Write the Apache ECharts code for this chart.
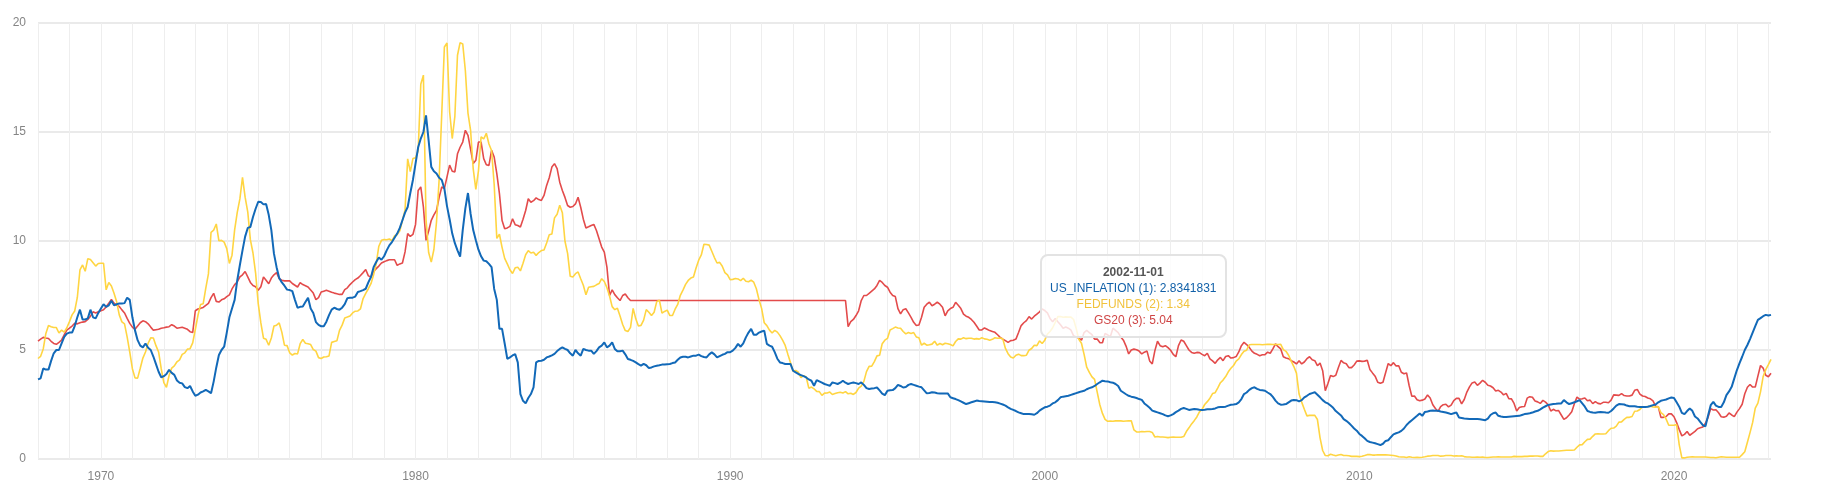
<!DOCTYPE html>
<html>
<head>
<meta charset="utf-8">
<title>US inflation, fed funds and 20y yield</title>
<script src="https://cdn.jsdelivr.net/npm/echarts@6/dist/echarts.min.js"></script>
<style>
  html, body { margin: 0; padding: 0; background: #fff; }
  #chart { width: 1829px; height: 502px; }
</style>
</head>
<body>
<div id="chart"></div>
<script>
// monthly, 1968-01 .. 2023-02
const startYear = 1968;
const monthCount = 662;
const yTicks = [0, 5, 10, 15, 20];
const seriesNames = ['US_INFLATION (1)', 'FEDFUNDS (2)', 'GS20 (3)'];
const seriesColors = ['#1160a8', '#f1c23c', '#cf4545'];

const usInflation = [
  3.65, 3.70, 4.15, 4.10, 4.10, 4.50, 4.85, 5.00, 5.00, 5.30, 5.60, 5.75, // 1968
  5.80, 5.80, 6.10, 6.50, 6.85, 6.40, 6.40, 6.45, 6.85, 6.50, 6.45, 6.70,
  6.90, 7.10, 6.98, 7.05, 7.26, 7.05, 7.10, 7.13, 7.13, 7.15, 7.40, 7.30, // 1970
  6.50, 5.90, 5.45, 5.20, 5.12, 5.30, 5.10, 5.00, 4.70, 4.35, 4.00, 3.75,
  3.80, 3.90, 4.09, 3.95, 3.86, 3.60, 3.50, 3.47, 3.30, 3.25, 3.35, 3.10,
  2.90, 2.95, 3.05, 3.10, 3.17, 3.10, 3.02, 3.55, 4.20, 4.77, 5.00, 5.15,
  5.80, 6.50, 6.90, 7.30, 8.20, 8.90, 9.57, 10.20, 10.60, 10.64, 11.10, 11.48,
  11.80, 11.79, 11.68, 11.70, 11.20, 10.50, 9.42, 8.80, 8.30, 8.10, 7.95, 7.77, // 1975
  7.75, 7.70, 7.30, 6.94, 6.98, 7.00, 7.20, 7.40, 6.90, 6.70, 6.28, 6.15,
  6.09, 6.09, 6.30, 6.60, 6.85, 6.94, 6.88, 6.85, 6.94, 7.10, 7.38, 7.40,
  7.40, 7.45, 7.66, 7.70, 7.75, 7.81, 8.10, 8.35, 8.80, 9.04, 9.24, 9.14,
  9.30, 9.57, 9.80, 9.95, 10.15, 10.34, 10.60, 10.95, 11.30, 11.56, 12.20, 12.80,
  13.55, 14.30, 14.70, 15.00, 15.76, 14.60, 13.40, 13.20, 13.10, 12.90, 12.80, 12.40, // 1980
  11.60, 11.00, 10.34, 9.90, 9.57, 9.28, 10.50, 11.50, 12.20, 11.25, 10.50, 10.03,
  9.60, 9.30, 9.10, 9.07, 8.95, 8.80, 7.80, 7.30, 5.97, 5.97, 5.30, 4.59,
  4.66, 4.75, 4.81, 4.43, 2.98, 2.67, 2.55, 2.80, 2.98, 3.28, 4.43, 4.50,
  4.51, 4.55, 4.66, 4.70, 4.75, 4.82, 4.95, 5.05, 5.12, 5.05, 5.00, 4.85,
  4.74, 5.00, 4.85, 4.74, 5.05, 5.00, 4.97, 4.97, 4.82, 4.95, 5.12, 5.20, // 1985
  5.35, 5.12, 5.20, 5.35, 5.05, 4.94, 4.94, 4.97, 4.80, 4.59, 4.55, 4.50,
  4.43, 4.35, 4.28, 4.36, 4.30, 4.17, 4.20, 4.25, 4.28, 4.30, 4.33, 4.33,
  4.35, 4.36, 4.40, 4.43, 4.55, 4.66, 4.69, 4.69, 4.66, 4.70, 4.74, 4.74,
  4.79, 4.72, 4.68, 4.66, 4.80, 4.89, 4.80, 4.66, 4.72, 4.78, 4.82, 4.90,
  4.90, 4.97, 5.10, 5.28, 5.15, 5.30, 5.58, 5.80, 5.97, 5.70, 5.70, 5.80, // 1990
  5.85, 5.89, 5.28, 5.20, 5.15, 4.90, 4.60, 4.43, 4.40, 4.36, 4.36, 4.36,
  4.05, 3.97, 3.90, 3.85, 3.80, 3.74, 3.65, 3.59, 3.36, 3.62, 3.56, 3.50,
  3.44, 3.40, 3.36, 3.51, 3.48, 3.44, 3.50, 3.59, 3.50, 3.44, 3.48, 3.51,
  3.48, 3.44, 3.51, 3.40, 3.25, 3.21, 3.23, 3.25, 3.28, 3.15, 3.00, 2.93,
  3.13, 3.15, 3.16, 3.25, 3.40, 3.35, 3.28, 3.30, 3.40, 3.44, 3.40, 3.36, // 1995
  3.32, 3.29, 3.15, 3.01, 3.03, 3.06, 3.05, 3.02, 3.01, 3.01, 3.01, 3.01,
  2.83, 2.79, 2.75, 2.70, 2.64, 2.58, 2.52, 2.56, 2.60, 2.64, 2.68, 2.66,
  2.65, 2.64, 2.63, 2.62, 2.61, 2.60, 2.58, 2.54, 2.50, 2.45, 2.37, 2.30,
  2.25, 2.20, 2.14, 2.10, 2.06, 2.06, 2.06, 2.05, 2.03, 2.10, 2.22, 2.30,
  2.37, 2.40, 2.45, 2.55, 2.60, 2.70, 2.83, 2.86, 2.88, 2.90, 2.94, 2.98, // 2000
  3.02, 3.06, 3.10, 3.13, 3.20, 3.25, 3.29, 3.35, 3.44, 3.52, 3.59, 3.57,
  3.56, 3.52, 3.50, 3.44, 3.35, 3.13, 3.05, 2.97, 2.90, 2.86, 2.8341831, 2.80,
  2.75, 2.71, 2.55, 2.45, 2.35, 2.22, 2.18, 2.14, 2.10, 2.06, 2.00, 1.96,
  2.00, 2.06, 2.15, 2.22, 2.30, 2.34, 2.30, 2.25, 2.27, 2.29, 2.28, 2.26,
  2.25, 2.26, 2.28, 2.28, 2.29, 2.32, 2.37, 2.38, 2.39, 2.40, 2.45, 2.49, // 2005
  2.50, 2.52, 2.60, 2.75, 2.98, 3.05, 3.17, 3.25, 3.29, 3.22, 3.17, 3.15,
  3.13, 3.05, 2.98, 2.85, 2.68, 2.55, 2.49, 2.50, 2.52, 2.60, 2.68, 2.71,
  2.70, 2.64, 2.70, 2.83, 2.90, 2.98, 3.02, 3.06, 2.95, 2.83, 2.70, 2.60,
  2.55, 2.45, 2.35, 2.20, 2.10, 2.00, 1.83, 1.75, 1.65, 1.53, 1.40, 1.30,
  1.15, 1.06, 0.95, 0.83, 0.78, 0.75, 0.72, 0.68, 0.64, 0.70, 0.83, 0.86, // 2010
  1.00, 1.13, 1.18, 1.22, 1.29, 1.40, 1.56, 1.68, 1.78, 1.88, 1.98, 2.09,
  1.98, 2.16, 2.18, 2.21, 2.22, 2.21, 2.21, 2.18, 2.16, 2.13, 2.10, 2.06,
  2.10, 2.13, 1.90, 1.88, 1.86, 1.85, 1.84, 1.83, 1.83, 1.83, 1.82, 1.80,
  1.78, 1.85, 2.02, 2.10, 2.13, 1.98, 1.95, 1.93, 1.93, 1.94, 1.95, 1.96,
  1.97, 1.98, 2.02, 2.06, 2.08, 2.10, 2.13, 2.18, 2.21, 2.28, 2.36, 2.42, // 2015
  2.48, 2.50, 2.52, 2.53, 2.55, 2.55, 2.70, 2.60, 2.52, 2.56, 2.60, 2.65,
  2.70, 2.55, 2.40, 2.20, 2.16, 2.13, 2.12, 2.14, 2.16, 2.15, 2.13, 2.12,
  2.20, 2.32, 2.45, 2.52, 2.51, 2.50, 2.45, 2.42, 2.42, 2.42, 2.40, 2.39,
  2.39, 2.39, 2.40, 2.43, 2.47, 2.50, 2.60, 2.67, 2.70, 2.73, 2.78, 2.82,
  2.80, 2.60, 2.40, 2.12, 2.06, 2.20, 2.32, 2.21, 1.95, 1.86, 1.70, 1.55, // 2020
  1.50, 2.00, 2.47, 2.62, 2.45, 2.39, 2.39, 2.60, 2.93, 3.10, 3.31, 3.70,
  4.08, 4.40, 4.69, 5.00, 5.23, 5.50, 5.80, 6.10, 6.38, 6.46, 6.55, 6.61,
  6.58, 6.61
];

const fedFunds = [
  4.61, 4.71, 5.05, 5.76, 6.12, 6.07, 6.03, 6.03, 5.78, 5.91, 5.82, 6.02, // 1968
  6.30, 6.61, 6.79, 7.41, 8.67, 8.90, 8.61, 9.19, 9.15, 9.00, 8.85, 8.97,
  8.98, 8.98, 7.76, 8.10, 7.94, 7.60, 7.21, 6.61, 6.29, 6.20, 5.60, 4.90, // 1970
  4.14, 3.72, 3.71, 4.16, 4.63, 4.91, 5.31, 5.56, 5.55, 5.20, 4.91, 4.14,
  3.50, 3.29, 3.83, 4.17, 4.27, 4.46, 4.55, 4.80, 4.87, 5.04, 5.06, 5.33,
  5.94, 6.58, 7.09, 7.12, 7.84, 8.49, 10.40, 10.50, 10.78, 10.01, 10.03, 9.95,
  9.65, 8.97, 9.35, 10.51, 11.31, 11.93, 12.92, 12.01, 11.34, 10.06, 9.45, 8.53,
  7.13, 6.24, 5.54, 5.49, 5.22, 5.55, 6.10, 6.14, 6.24, 5.82, 5.22, 5.20, // 1975
  4.87, 4.77, 4.84, 4.82, 5.29, 5.48, 5.31, 5.29, 5.25, 5.02, 4.95, 4.65,
  4.61, 4.68, 4.69, 4.73, 5.35, 5.39, 5.42, 5.90, 6.14, 6.47, 6.51, 6.56,
  6.70, 6.78, 6.79, 6.89, 7.36, 7.60, 7.81, 8.04, 8.45, 8.96, 9.76, 10.03,
  10.07, 10.06, 10.09, 10.01, 10.24, 10.29, 10.47, 10.94, 11.43, 13.77, 13.18, 13.78,
  13.82, 14.13, 17.19, 17.61, 10.98, 9.47, 9.03, 9.61, 10.87, 12.81, 15.85, 18.90, // 1980
  19.08, 15.93, 14.70, 15.72, 18.52, 19.10, 19.04, 17.82, 15.87, 15.08, 13.31, 12.37,
  13.22, 14.78, 14.68, 14.94, 14.45, 14.15, 12.59, 10.12, 10.31, 9.71, 9.20, 8.95,
  8.68, 8.51, 8.77, 8.80, 8.63, 8.98, 9.37, 9.56, 9.45, 9.48, 9.34, 9.47,
  9.56, 9.59, 9.91, 10.29, 10.32, 11.06, 11.23, 11.64, 11.30, 9.99, 9.43, 8.38,
  8.35, 8.50, 8.58, 8.27, 7.97, 7.53, 7.88, 7.90, 7.92, 7.99, 8.05, 8.27, // 1985
  8.14, 7.86, 7.48, 6.99, 6.85, 6.92, 6.56, 6.17, 5.89, 5.85, 6.04, 6.91,
  6.43, 6.10, 6.13, 6.37, 6.85, 6.73, 6.58, 6.73, 7.22, 7.29, 6.69, 6.77,
  6.83, 6.58, 6.58, 6.87, 7.09, 7.51, 7.75, 8.01, 8.19, 8.30, 8.35, 8.76,
  9.12, 9.36, 9.85, 9.84, 9.81, 9.53, 9.24, 8.99, 9.02, 8.84, 8.55, 8.45,
  8.23, 8.24, 8.28, 8.26, 8.18, 8.29, 8.15, 8.13, 8.20, 8.11, 7.81, 7.31, // 1990
  6.91, 6.25, 6.12, 5.91, 5.78, 5.90, 5.82, 5.66, 5.45, 5.21, 4.81, 4.43,
  4.03, 4.06, 3.98, 3.73, 3.82, 3.76, 3.25, 3.30, 3.22, 3.10, 3.09, 2.92,
  3.02, 3.03, 3.07, 2.96, 3.00, 3.04, 3.06, 3.03, 3.09, 2.99, 3.02, 2.96,
  3.05, 3.25, 3.34, 3.56, 4.01, 4.25, 4.26, 4.47, 4.73, 4.76, 5.29, 5.45,
  5.53, 5.92, 5.98, 6.05, 6.01, 6.00, 5.85, 5.74, 5.80, 5.76, 5.80, 5.60, // 1995
  5.56, 5.22, 5.31, 5.22, 5.24, 5.27, 5.40, 5.22, 5.30, 5.24, 5.31, 5.29,
  5.25, 5.19, 5.39, 5.51, 5.50, 5.56, 5.52, 5.54, 5.54, 5.50, 5.52, 5.50,
  5.56, 5.51, 5.49, 5.45, 5.49, 5.56, 5.54, 5.55, 5.51, 5.07, 4.83, 4.68,
  4.63, 4.76, 4.81, 4.74, 4.74, 4.76, 4.99, 5.07, 5.22, 5.20, 5.42, 5.30,
  5.45, 5.73, 5.85, 6.02, 6.27, 6.53, 6.54, 6.50, 6.52, 6.51, 6.51, 6.40, // 2000
  5.98, 5.49, 5.31, 4.80, 4.21, 3.97, 3.77, 3.65, 3.07, 2.49, 2.09, 1.82,
  1.73, 1.74, 1.73, 1.75, 1.75, 1.75, 1.73, 1.74, 1.75, 1.75, 1.34, 1.24,
  1.24, 1.26, 1.25, 1.26, 1.26, 1.22, 1.01, 1.03, 1.01, 1.01, 1.00, 0.98,
  1.00, 1.01, 1.00, 1.00, 1.00, 1.03, 1.26, 1.43, 1.61, 1.76, 1.93, 2.16,
  2.28, 2.50, 2.63, 2.79, 3.00, 3.04, 3.26, 3.50, 3.62, 3.78, 4.00, 4.16, // 2005
  4.29, 4.49, 4.59, 4.79, 4.94, 4.99, 5.24, 5.25, 5.25, 5.25, 5.25, 5.24,
  5.25, 5.26, 5.26, 5.25, 5.25, 5.25, 5.26, 5.02, 4.94, 4.76, 4.49, 4.24,
  3.94, 2.98, 2.61, 2.28, 1.98, 2.00, 2.01, 2.00, 1.81, 0.97, 0.39, 0.16,
  0.15, 0.22, 0.18, 0.15, 0.18, 0.21, 0.16, 0.16, 0.15, 0.12, 0.12, 0.12,
  0.11, 0.13, 0.16, 0.20, 0.20, 0.18, 0.18, 0.19, 0.19, 0.19, 0.19, 0.18, // 2010
  0.17, 0.16, 0.14, 0.10, 0.09, 0.09, 0.07, 0.10, 0.08, 0.07, 0.08, 0.07,
  0.08, 0.10, 0.13, 0.14, 0.16, 0.16, 0.16, 0.13, 0.14, 0.16, 0.16, 0.16,
  0.14, 0.15, 0.14, 0.15, 0.11, 0.09, 0.09, 0.08, 0.08, 0.09, 0.08, 0.09,
  0.07, 0.07, 0.08, 0.09, 0.09, 0.10, 0.09, 0.09, 0.09, 0.09, 0.09, 0.12,
  0.11, 0.11, 0.11, 0.12, 0.12, 0.13, 0.13, 0.14, 0.14, 0.12, 0.12, 0.24, // 2015
  0.34, 0.38, 0.36, 0.37, 0.37, 0.38, 0.39, 0.40, 0.40, 0.40, 0.41, 0.54,
  0.65, 0.66, 0.79, 0.90, 0.91, 1.04, 1.15, 1.16, 1.15, 1.15, 1.16, 1.30,
  1.41, 1.42, 1.51, 1.69, 1.70, 1.82, 1.91, 1.91, 1.95, 2.19, 2.20, 2.27,
  2.40, 2.40, 2.41, 2.42, 2.39, 2.38, 2.40, 2.13, 2.04, 1.83, 1.55, 1.55,
  1.55, 1.58, 0.65, 0.05, 0.05, 0.08, 0.09, 0.10, 0.09, 0.09, 0.09, 0.09, // 2020
  0.09, 0.08, 0.07, 0.07, 0.06, 0.08, 0.10, 0.09, 0.08, 0.08, 0.08, 0.08,
  0.08, 0.08, 0.20, 0.33, 0.77, 1.21, 1.68, 2.33, 2.56, 3.08, 3.78, 4.10,
  4.33, 4.57
];

const gs20 = [
  5.41, 5.50, 5.58, 5.55, 5.53, 5.40, 5.30, 5.26, 5.35, 5.46, 5.70, 5.91, // 1968
  6.00, 6.10, 6.22, 6.20, 6.25, 6.28, 6.30, 6.40, 6.55, 6.75, 6.70, 6.75,
  6.80, 6.85, 6.98, 7.15, 7.32, 7.15, 7.06, 7.00, 6.84, 6.70, 6.45, 6.22, // 1970
  6.05, 5.95, 6.10, 6.25, 6.34, 6.30, 6.20, 6.05, 5.91, 5.93, 5.95, 6.00,
  6.02, 6.05, 6.07, 6.16, 6.10, 6.00, 6.02, 6.04, 6.00, 5.95, 5.84, 5.80,
  6.80, 6.88, 6.91, 6.95, 7.05, 7.14, 7.40, 7.60, 7.23, 7.20, 7.30, 7.35,
  7.45, 7.53, 7.80, 8.00, 8.12, 8.35, 8.45, 8.60, 8.35, 8.10, 7.96, 7.90,
  7.74, 7.90, 8.35, 8.20, 8.04, 8.30, 8.45, 8.55, 8.27, 8.20, 8.17, 8.17, // 1975
  8.17, 8.05, 7.97, 7.89, 8.09, 8.00, 7.95, 7.89, 7.75, 7.61, 7.31, 7.40,
  7.66, 7.70, 7.74, 7.70, 7.65, 7.61, 7.58, 7.55, 7.55, 7.77, 7.85, 8.00,
  8.12, 8.23, 8.30, 8.42, 8.55, 8.69, 8.40, 8.35, 8.60, 8.73, 8.85, 8.99,
  9.05, 9.10, 9.14, 9.14, 9.14, 8.88, 8.95, 8.99, 9.50, 10.34, 10.21, 10.30,
  10.76, 12.32, 12.48, 11.56, 10.03, 10.46, 10.95, 11.20, 11.40, 12.00, 12.48, 12.40, // 1980
  12.94, 13.48, 13.20, 13.17, 14.00, 14.30, 14.54, 15.08, 14.85, 14.20, 13.55, 13.70,
  14.54, 14.54, 13.78, 13.50, 13.47, 14.16, 13.85, 13.09, 12.17, 10.94, 10.56, 10.60,
  10.67, 11.02, 10.75, 10.71, 10.64, 11.00, 11.40, 11.94, 11.78, 11.85, 11.98, 11.90,
  11.86, 12.09, 12.55, 12.90, 13.39, 13.55, 13.32, 12.70, 12.32, 12.00, 11.63, 11.55,
  11.58, 11.70, 12.01, 11.55, 11.00, 10.60, 10.65, 10.71, 10.76, 10.48, 10.10, 9.72, // 1985
  9.49, 8.80, 7.50, 7.76, 7.54, 7.40, 7.27, 7.50, 7.57, 7.40, 7.27, 7.27,
  7.27, 7.27, 7.27, 7.27, 7.27, 7.27, 7.27, 7.27, 7.27, 7.27, 7.27, 7.27,
  7.27, 7.27, 7.27, 7.27, 7.27, 7.27, 7.27, 7.27, 7.27, 7.27, 7.27, 7.27,
  7.27, 7.27, 7.27, 7.27, 7.27, 7.27, 7.27, 7.27, 7.27, 7.27, 7.27, 7.27,
  7.27, 7.27, 7.27, 7.27, 7.27, 7.27, 7.27, 7.27, 7.27, 7.27, 7.27, 7.27, // 1990
  7.27, 7.27, 7.27, 7.27, 7.27, 7.27, 7.27, 7.27, 7.27, 7.27, 7.27, 7.27,
  7.27, 7.27, 7.27, 7.27, 7.27, 7.27, 7.27, 7.27, 7.27, 7.27, 7.27, 7.27,
  7.27, 7.27, 7.27, 7.27, 7.27, 7.27, 7.27, 7.27, 7.27, 6.07, 6.30, 6.40,
  6.58, 6.80, 7.27, 7.50, 7.50, 7.60, 7.70, 7.80, 7.96, 8.19, 8.10, 7.96,
  7.88, 7.65, 7.50, 7.45, 6.90, 6.66, 6.85, 6.89, 6.70, 6.50, 6.27, 6.12, // 1995
  6.15, 6.50, 6.96, 7.10, 7.19, 7.03, 7.10, 7.19, 7.10, 6.96, 6.57, 6.80,
  6.90, 6.96, 7.19, 7.05, 6.90, 6.65, 6.55, 6.50, 6.40, 6.27, 6.10, 5.92,
  5.92, 6.01, 5.95, 5.89, 5.85, 5.81, 5.70, 5.58, 5.50, 5.43, 5.35, 5.43,
  5.45, 5.50, 5.80, 6.12, 6.25, 6.35, 6.53, 6.42, 6.55, 6.65, 6.75, 6.88,
  6.81, 6.70, 6.45, 6.30, 6.45, 6.30, 6.16, 6.00, 6.05, 6.00, 5.91, 5.65, // 2000
  5.60, 5.55, 5.45, 5.80, 5.90, 5.80, 5.70, 5.50, 5.50, 5.34, 5.33, 5.76,
  5.69, 5.61, 6.00, 5.90, 5.80, 5.60, 5.45, 5.18, 4.82, 5.00, 5.04, 5.01,
  4.95, 4.82, 4.90, 4.95, 4.50, 4.36, 4.97, 5.40, 5.20, 5.15, 5.20, 5.11,
  4.99, 4.80, 4.69, 5.20, 5.46, 5.40, 5.20, 5.00, 4.89, 4.85, 4.89, 4.88,
  4.80, 4.74, 4.85, 4.59, 4.50, 4.39, 4.55, 4.66, 4.51, 4.70, 4.74, 4.63, // 2005
  4.65, 4.70, 4.91, 5.20, 5.35, 5.25, 5.12, 4.95, 4.85, 4.80, 4.74, 4.78,
  4.79, 4.90, 4.85, 5.05, 5.28, 5.15, 5.05, 4.69, 4.63, 4.60, 4.51, 4.45,
  4.36, 4.51, 4.36, 4.45, 4.60, 4.69, 4.55, 4.51, 4.28, 4.40, 4.05, 3.13,
  3.46, 3.83, 3.78, 3.84, 4.20, 4.52, 4.41, 4.37, 4.19, 4.19, 4.31, 4.49,
  4.50, 4.48, 4.49, 4.53, 4.11, 3.95, 3.80, 3.52, 3.47, 3.52, 3.96, 4.38, // 2010
  4.28, 4.42, 4.27, 4.28, 3.98, 3.91, 3.95, 3.36, 2.88, 2.89, 2.72, 2.67,
  2.70, 2.75, 2.94, 2.80, 2.49, 2.32, 2.18, 2.40, 2.49, 2.51, 2.39, 2.47,
  2.68, 2.78, 2.78, 2.53, 2.73, 3.07, 3.31, 3.49, 3.53, 3.38, 3.48, 3.61,
  3.52, 3.38, 3.35, 3.27, 3.12, 3.15, 3.07, 2.94, 3.01, 2.77, 2.76, 2.55,
  2.20, 2.36, 2.40, 2.41, 2.79, 2.86, 2.83, 2.66, 2.62, 2.55, 2.69, 2.61, // 2015
  2.49, 2.20, 2.28, 2.21, 2.22, 2.02, 1.82, 1.89, 2.02, 2.17, 2.54, 2.84,
  2.75, 2.76, 2.80, 2.67, 2.70, 2.54, 2.63, 2.55, 2.53, 2.60, 2.60, 2.58,
  2.70, 2.94, 2.93, 2.92, 3.00, 2.91, 2.89, 2.89, 2.93, 3.15, 3.19, 2.98,
  2.89, 2.87, 2.80, 2.76, 2.67, 2.42, 2.40, 1.91, 1.91, 1.95, 2.07, 2.07,
  1.94, 1.67, 1.35, 1.06, 1.13, 1.26, 1.09, 1.18, 1.27, 1.39, 1.43, 1.47, // 2020
  1.64, 1.91, 2.31, 2.25, 2.26, 2.12, 1.94, 1.92, 1.96, 2.11, 2.02, 1.94,
  2.15, 2.31, 2.51, 2.99, 3.29, 3.42, 3.30, 3.30, 3.80, 4.29, 4.17, 3.84,
  3.77, 3.93
];

// the month shown in the tooltip
const tipDate = '2002-11-01';

const months = [];
for (let i = 0; i < monthCount; i++) {
  const y = startYear + Math.floor(i / 12);
  const m = (i % 12) + 1;
  months.push(y + '-' + (m < 10 ? '0' + m : m) + '-01');
}

const FONT = '"Liberation Sans", Arial, sans-serif';
const lineWidths = [2, 1.6, 1.6];
const chart = echarts.init(document.getElementById('chart'));

chart.setOption({
  animation: false,
  color: seriesColors,
  textStyle: { fontFamily: FONT },
  grid: { left: 38, right: 58, top: 23, bottom: 43 },
  tooltip: {
    trigger: 'axis',
    triggerOn: 'none',
    alwaysShowContent: true,
    transitionDuration: 0,
    axisPointer: { type: 'none' },
    backgroundColor: 'rgba(255,255,255,0.82)',
    borderColor: '#e3e3e3',
    borderWidth: 2,
    padding: [8, 8],
    extraCssText: 'border-radius:8px;box-shadow:none;',
    textStyle: { fontFamily: FONT, fontSize: 12 },
    position: (pt, params, dom, rect, size) => [pt[0] - size.contentSize[0] / 2, 254],
    formatter: params => {
      let html = '<div style="text-align:center;line-height:16px;font-size:12px">' +
        '<b style="color:#555">' + params[0].axisValue + '</b>';
      params.forEach(p => {
        html += '<br><span style="color:' + p.color + '">' + p.seriesName + ': ' + p.value + '</span>';
      });
      return html + '</div>';
    }
  },
  xAxis: {
    type: 'category',
    data: months,
    boundaryGap: false,
    axisLine: { show: false },
    axisTick: { show: false },
    axisLabel: {
      color: '#858585',
      fontSize: 12,
      margin: 12,
      interval: (i, v) => v.slice(5) === '01-01' && +v.slice(0, 4) % 10 === 0,
      formatter: v => v.slice(0, 4)
    },
    splitLine: {
      show: true,
      interval: (i, v) => v.slice(5) === '01-01',
      lineStyle: { color: '#eeeeee', width: 1 }
    }
  },
  yAxis: {
    type: 'value',
    min: yTicks[0],
    max: yTicks[yTicks.length - 1],
    interval: 5,
    axisLine: { show: false },
    axisTick: { show: false },
    axisLabel: { color: '#858585', fontSize: 12, margin: 12 },
    splitLine: { lineStyle: { color: '#e3e3e3', width: 1.5 } }
  },
  series: [usInflation, fedFunds, gs20].map((d, k) => ({
    name: seriesNames[k],
    type: 'line',
    data: d,
    symbol: 'none',
    lineStyle: { width: lineWidths[k] },
    z: 3 - k
  }))
});

chart.dispatchAction({ type: 'showTip', seriesIndex: 0, dataIndex: months.indexOf(tipDate) });
</script>
</body>
</html>
